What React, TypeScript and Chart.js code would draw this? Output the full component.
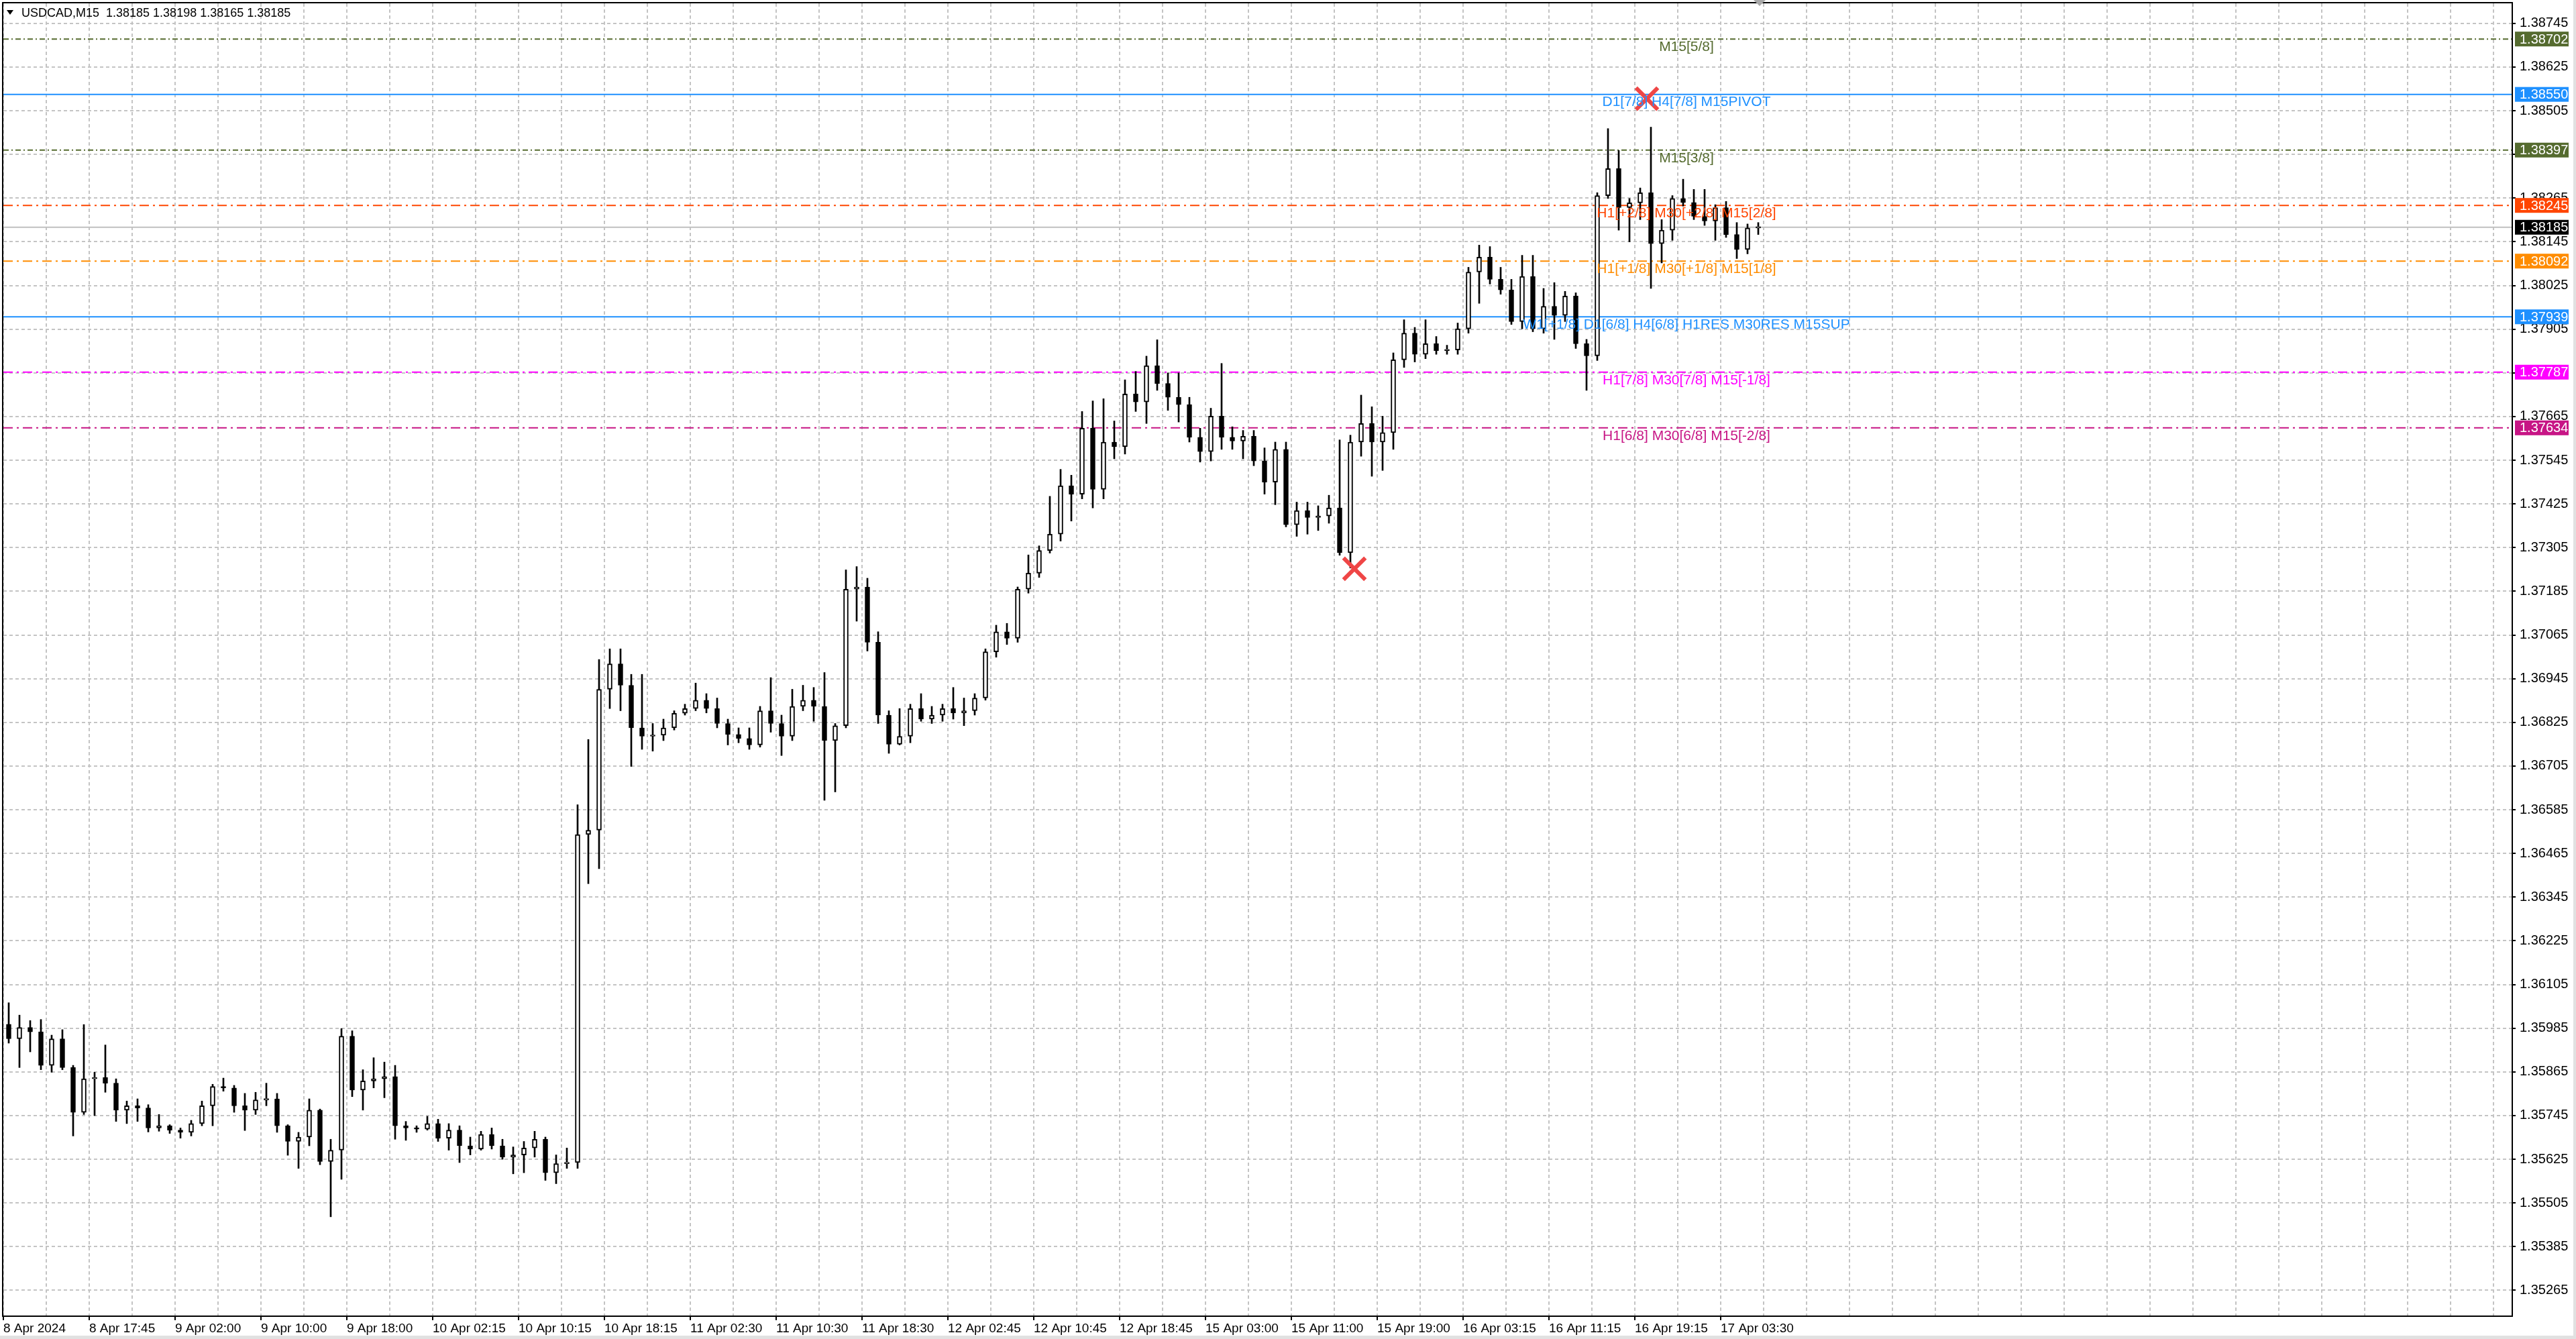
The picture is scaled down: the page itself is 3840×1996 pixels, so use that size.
import { useEffect, useRef } from "react";
import { Chart, registerables } from "chart.js";

Chart.register(...registerables);

const FONT = "'Liberation Sans', Arial, sans-serif";

// hourly candles (M15 axis, 4 bars per candle)
const opens = [
  1.35996, 1.35956, 1.35987, 1.35975, 1.35883, 1.35956, 1.35877, 1.35754, 1.35846, 1.35850,
  1.35834, 1.35760, 1.35772, 1.35766, 1.35711, 1.35717, 1.35705, 1.35699, 1.35723, 1.35772,
  1.35825, 1.35821, 1.35772, 1.35760, 1.35788, 1.35791, 1.35717, 1.35674, 1.35686, 1.35760,
  1.35619, 1.35650, 1.35963, 1.35815, 1.35840, 1.35846, 1.35852, 1.35717, 1.35711, 1.35708,
  1.35723, 1.35683, 1.35705, 1.35662, 1.35653, 1.35693, 1.35662, 1.35631, 1.35637, 1.35656,
  1.35680, 1.35588, 1.35613, 1.35616, 1.36517, 1.36529, 1.36916, 1.36986, 1.36927, 1.36810,
  1.36787, 1.36790, 1.36810, 1.36850, 1.36863, 1.36886, 1.36863, 1.36822, 1.36792, 1.36781,
  1.36763, 1.36857, 1.36822, 1.36787, 1.36869, 1.36886, 1.36869, 1.36775, 1.36816, 1.37191,
  1.37197, 1.37045, 1.36845, 1.36765, 1.36787, 1.36863, 1.36834, 1.36845, 1.36863, 1.36851,
  1.36857, 1.36892, 1.37019, 1.37074, 1.37056, 1.37191, 1.37235, 1.37297, 1.37342, 1.37475,
  1.37452, 1.37633, 1.37465, 1.37595, 1.37582, 1.37727, 1.37705, 1.37805, 1.37756, 1.37718,
  1.37698, 1.37608, 1.37569, 1.37666, 1.37608, 1.37598, 1.37611, 1.37543, 1.37485, 1.37575,
  1.37368, 1.37407, 1.37388, 1.37392, 1.37414, 1.37291, 1.37595, 1.37646, 1.37595, 1.37621,
  1.37821, 1.37894, 1.37836, 1.37865, 1.37846, 1.37848, 1.37906, 1.38062, 1.38103, 1.38042,
  1.38013, 1.37926, 1.38050, 1.37906, 1.37968, 1.37943, 1.37996, 1.37865, 1.37832, 1.38272,
  1.38346, 1.38239, 1.38252, 1.38280, 1.38140, 1.38177, 1.38264, 1.38253, 1.38215, 1.38202,
  1.38239, 1.38165, 1.38124, 1.38183,
];
const highs = [
  1.36055, 1.36021, 1.36006, 1.36009, 1.35966, 1.35981, 1.35883, 1.35995, 1.35864, 1.35939,
  1.35846, 1.35785, 1.35791, 1.35775, 1.35748, 1.35720, 1.35711, 1.35732, 1.35785, 1.35831,
  1.35848, 1.35828, 1.35806, 1.35809, 1.35834, 1.35806, 1.35720, 1.35699, 1.35791, 1.35763,
  1.35680, 1.35984, 1.35978, 1.35871, 1.35904, 1.35892, 1.35883, 1.35729, 1.35717, 1.35743,
  1.35735, 1.35723, 1.35717, 1.35686, 1.35702, 1.35711, 1.35680, 1.35659, 1.35674, 1.35702,
  1.35686, 1.35637, 1.35656, 1.36599, 1.36778, 1.36998, 1.37027, 1.37027, 1.36957, 1.36957,
  1.36822, 1.36834, 1.36857, 1.36875, 1.36933, 1.36904, 1.36892, 1.36834, 1.36810, 1.36810,
  1.36869, 1.36948, 1.36845, 1.36916, 1.36927, 1.36921, 1.36962, 1.36822, 1.37244, 1.37253,
  1.37221, 1.37074, 1.36857, 1.36863, 1.36875, 1.36904, 1.36869, 1.36875, 1.36921, 1.36892,
  1.36904, 1.37027, 1.37092, 1.37097, 1.37197, 1.37285, 1.37310, 1.37446, 1.37520, 1.37504,
  1.37679, 1.37708, 1.37714, 1.37653, 1.37766, 1.37789, 1.37831, 1.37876, 1.37785, 1.37785,
  1.37718, 1.37633, 1.37688, 1.37811, 1.37637, 1.37627, 1.37627, 1.37579, 1.37595, 1.37595,
  1.37430, 1.37430, 1.37420, 1.37449, 1.37601, 1.37614, 1.37724, 1.37692, 1.37666, 1.37840,
  1.37931, 1.37910, 1.37931, 1.37885, 1.37861, 1.37922, 1.38075, 1.38136, 1.38132, 1.38075,
  1.38042, 1.38108, 1.38108, 1.38017, 1.38033, 1.38009, 1.38005, 1.37877, 1.38280, 1.38456,
  1.38396, 1.38264, 1.38293, 1.38460, 1.38206, 1.38272, 1.38317, 1.38289, 1.38289, 1.38247,
  1.38256, 1.38198, 1.38194, 1.38198,
];
const lows = [
  1.35944, 1.35877, 1.35920, 1.35871, 1.35864, 1.35871, 1.35689, 1.35748, 1.35745, 1.35809,
  1.35729, 1.35723, 1.35729, 1.35700, 1.35702, 1.35696, 1.35683, 1.35689, 1.35717, 1.35717,
  1.35812, 1.35754, 1.35704, 1.35748, 1.35772, 1.35699, 1.35636, 1.35600, 1.35662, 1.35610,
  1.35467, 1.35570, 1.35797, 1.35760, 1.35821, 1.35794, 1.35680, 1.35677, 1.35699, 1.35705,
  1.35674, 1.35650, 1.35616, 1.35637, 1.35650, 1.35653, 1.35625, 1.35585, 1.35588, 1.35631,
  1.35567, 1.35558, 1.35600, 1.35600, 1.36382, 1.36423, 1.36863, 1.36857, 1.36704, 1.36751,
  1.36746, 1.36775, 1.36804, 1.36845, 1.36857, 1.36851, 1.36810, 1.36763, 1.36769, 1.36751,
  1.36757, 1.36798, 1.36734, 1.36775, 1.36857, 1.36828, 1.36611, 1.36634, 1.36810, 1.37103,
  1.37021, 1.36822, 1.36740, 1.36763, 1.36769, 1.36828, 1.36822, 1.36828, 1.36834, 1.36816,
  1.36845, 1.36886, 1.37004, 1.37039, 1.37045, 1.37180, 1.37223, 1.37290, 1.37323, 1.37378,
  1.37439, 1.37414, 1.37439, 1.37549, 1.37562, 1.37679, 1.37646, 1.37737, 1.37682, 1.37650,
  1.37595, 1.37540, 1.37543, 1.37575, 1.37575, 1.37549, 1.37530, 1.37452, 1.37423, 1.37362,
  1.37336, 1.37342, 1.37352, 1.37372, 1.37284, 1.37249, 1.37556, 1.37501, 1.37517, 1.37575,
  1.37800, 1.37815, 1.37824, 1.37836, 1.37836, 1.37836, 1.37894, 1.37976, 1.38029, 1.38001,
  1.37918, 1.37906, 1.37898, 1.37894, 1.37877, 1.37926, 1.37852, 1.37737, 1.37819, 1.38264,
  1.38177, 1.38145, 1.38206, 1.38017, 1.38087, 1.38149, 1.38243, 1.38206, 1.38190, 1.38149,
  1.38157, 1.38099, 1.38112, 1.38165,
];
const closes = [
  1.35956, 1.35987, 1.35975, 1.35883, 1.35956, 1.35877, 1.35754, 1.35846, 1.35850, 1.35834,
  1.35760, 1.35772, 1.35766, 1.35711, 1.35717, 1.35705, 1.35699, 1.35723, 1.35772, 1.35825,
  1.35821, 1.35772, 1.35760, 1.35788, 1.35791, 1.35717, 1.35674, 1.35686, 1.35760, 1.35619,
  1.35650, 1.35963, 1.35815, 1.35840, 1.35846, 1.35852, 1.35717, 1.35711, 1.35708, 1.35723,
  1.35683, 1.35705, 1.35662, 1.35653, 1.35693, 1.35662, 1.35631, 1.35637, 1.35656, 1.35680,
  1.35588, 1.35613, 1.35616, 1.36517, 1.36529, 1.36916, 1.36986, 1.36927, 1.36810, 1.36787,
  1.36790, 1.36810, 1.36850, 1.36863, 1.36886, 1.36863, 1.36822, 1.36792, 1.36781, 1.36763,
  1.36857, 1.36822, 1.36787, 1.36869, 1.36886, 1.36869, 1.36775, 1.36816, 1.37191, 1.37197,
  1.37045, 1.36845, 1.36765, 1.36787, 1.36863, 1.36834, 1.36845, 1.36863, 1.36851, 1.36857,
  1.36892, 1.37019, 1.37074, 1.37056, 1.37191, 1.37235, 1.37297, 1.37342, 1.37475, 1.37452,
  1.37633, 1.37465, 1.37595, 1.37582, 1.37727, 1.37705, 1.37805, 1.37756, 1.37718, 1.37698,
  1.37608, 1.37569, 1.37666, 1.37608, 1.37598, 1.37611, 1.37543, 1.37485, 1.37575, 1.37368,
  1.37407, 1.37388, 1.37392, 1.37414, 1.37291, 1.37595, 1.37646, 1.37595, 1.37621, 1.37821,
  1.37894, 1.37836, 1.37865, 1.37846, 1.37848, 1.37906, 1.38062, 1.38103, 1.38042, 1.38013,
  1.37926, 1.38050, 1.37906, 1.37968, 1.37943, 1.37996, 1.37865, 1.37832, 1.38272, 1.38346,
  1.38239, 1.38252, 1.38280, 1.38140, 1.38177, 1.38264, 1.38253, 1.38215, 1.38202, 1.38239,
  1.38165, 1.38124, 1.38183, 1.38185,
];

const yTicks = [
  1.35265, 1.35385, 1.35505, 1.35625, 1.35745, 1.35865, 1.35985, 1.36105, 1.36225, 1.36345,
  1.36465, 1.36585, 1.36705, 1.36825, 1.36945, 1.37065, 1.37185, 1.37305, 1.37425, 1.37545,
  1.37665, 1.37785, 1.37905, 1.38025, 1.38145, 1.38265, 1.38385, 1.38505, 1.38625, 1.38745,
];

const xLabels = [
  "8 Apr 2024", "8 Apr 17:45", "9 Apr 02:00", "9 Apr 10:00", "9 Apr 18:00", "10 Apr 02:15",
  "10 Apr 10:15", "10 Apr 18:15", "11 Apr 02:30", "11 Apr 10:30", "11 Apr 18:30", "12 Apr 02:45",
  "12 Apr 10:45", "12 Apr 18:45", "15 Apr 03:00", "15 Apr 11:00", "15 Apr 19:00", "16 Apr 03:15",
  "16 Apr 11:15", "16 Apr 19:15", "17 Apr 03:30",
];

const levelPrices = [1.38702, 1.3855, 1.38397, 1.38245, 1.38092, 1.37939, 1.37787, 1.37634];
const levelTexts = [
  "M15[5/8]",
  "D1[7/8] H4[7/8] M15PIVOT",
  "M15[3/8]",
  "H1[+2/8] M30[+2/8] M15[2/8]",
  "H1[+1/8] M30[+1/8] M15[1/8]",
  "W1[+1/8] D1[6/8] H4[6/8] H1RES M30RES M15SUP",
  "H1[7/8] M30[7/8] M15[-1/8]",
  "H1[6/8] M30[6/8] M15[-2/8]",
];
const levelColors = ["#556B2F", "#1E90FF", "#556B2F", "#FF4500", "#FF8C00", "#1E90FF", "#FF00FF", "#C71585"];
const levelDashes = [[8, 4, 2, 4], [], [8, 4, 2, 4], [14, 6, 3, 6], [14, 6, 3, 6], [], [14, 6, 3, 6], [14, 6, 3, 6]];
const levelLabelBar = 626.75;

const bidPrice = 1.38185;
const tagPrices = [1.38702, 1.3855, 1.38397, 1.38245, 1.38185, 1.38092, 1.37939, 1.37787, 1.37634];
const tagColors = ["#556B2F", "#1E90FF", "#556B2F", "#FF4500", "#000000", "#FF8C00", "#1E90FF", "#FF00FF", "#C71585"];

const markBars = [612, 503];
const markPrices = [1.38538, 1.37247];

const titleText = "USDCAD,M15  1.38185 1.38198 1.38165 1.38185";

const X_MIN = -0.5;
const X_MAX = 934.5;

const mt4Plugin = {
  id: "mt4Overlay",
  beforeDraw(chart: any) {
    const { ctx, width, height } = chart;
    ctx.save();
    ctx.fillStyle = "#ffffff";
    ctx.fillRect(0, 0, width, height);
    ctx.restore();
  },
  afterDraw(chart: any) {
    const { ctx, chartArea: a, scales, width, height } = chart;
    const x = scales.x;
    const y = scales.y;
    ctx.save();

    // level captions
    ctx.save();
    ctx.beginPath();
    ctx.rect(a.left, a.top, a.right - a.left, a.bottom - a.top);
    ctx.clip();
    ctx.font = `21px ${FONT}`;
    ctx.textAlign = "center";
    ctx.textBaseline = "middle";
    levelPrices.forEach((p, i) => {
      ctx.fillStyle = levelColors[i];
      ctx.fillText(levelTexts[i], x.getPixelForValue(levelLabelBar), y.getPixelForValue(p) + 12);
    });
    ctx.restore();

    // frame
    ctx.strokeStyle = "#000";
    ctx.lineWidth = 2;
    ctx.strokeRect(a.left - 1, a.top - 1, a.right - a.left + 1, a.bottom - a.top + 1);

    // price tags on the axis
    ctx.font = `20px ${FONT}`;
    ctx.textAlign = "left";
    ctx.textBaseline = "middle";
    tagPrices.forEach((p, i) => {
      const py = y.getPixelForValue(p);
      ctx.fillStyle = tagColors[i];
      ctx.fillRect(a.right + 4, py - 11, 80, 22);
      ctx.fillStyle = "#ffffff";
      ctx.fillText(p.toFixed(5), a.right + 11, py + 1);
    });

    // title
    ctx.fillStyle = "#000";
    ctx.beginPath();
    ctx.moveTo(10, 15);
    ctx.lineTo(20, 15);
    ctx.lineTo(15, 22);
    ctx.closePath();
    ctx.fill();
    ctx.font = `18px ${FONT}`;
    ctx.fillText(titleText, 32, 20);

    // chart shift marker
    const sx = x.getPixelForValue(654);
    ctx.fillStyle = "#a8a8a8";
    ctx.beginPath();
    ctx.moveTo(sx - 9, 0);
    ctx.lineTo(sx + 9, 0);
    ctx.lineTo(sx, 9);
    ctx.closePath();
    ctx.fill();

    // window edges
    ctx.fillStyle = "#e1e1e1";
    ctx.fillRect(0, height - 5, width, 5);
    ctx.fillRect(width - 4, 0, 4, height);
    ctx.restore();
  },
};

export default function App() {
  const canvasRef = useRef<HTMLCanvasElement | null>(null);

  useEffect(() => {
    if (!canvasRef.current) return;

    const candleX = closes.map((_, i) => i * 4 + 1.5);
    const wickData = candleX.map((cx, i) => ({ x: cx, y: [lows[i], highs[i]] }));
    const bodyData = candleX.map((cx, i) => ({ x: cx, y: [opens[i], closes[i]] }));
    const bodyFill = closes.map((c, i) => (c >= opens[i] ? "#ffffff" : "#000000"));

    const levelSets = levelPrices.map((p, i) => ({
      type: "line" as const,
      data: [{ x: X_MIN, y: p }, { x: X_MAX, y: p }],
      borderColor: levelColors[i],
      borderWidth: 2,
      borderDash: levelDashes[i],
      pointRadius: 0,
      order: 3,
    }));

    const chart = new Chart(canvasRef.current, {
      type: "bar",
      data: {
        datasets: [
          {
            type: "line",
            data: [{ x: X_MIN, y: bidPrice }, { x: X_MAX, y: bidPrice }],
            borderColor: "#c0c0c0",
            borderWidth: 2,
            pointRadius: 0,
            order: 4,
          } as any,
          ...levelSets,
          {
            type: "bar",
            data: wickData,
            backgroundColor: "#000000",
            barThickness: 2,
            grouped: false,
            minBarLength: 1,
            order: 2,
          } as any,
          {
            type: "bar",
            data: bodyData,
            backgroundColor: bodyFill,
            borderColor: "#000000",
            borderWidth: 2,
            borderSkipped: false,
            barThickness: 7,
            grouped: false,
            minBarLength: 2,
            order: 1,
          } as any,
          {
            type: "scatter",
            data: markBars.map((b, i) => ({ x: b, y: markPrices[i] })),
            pointStyle: "crossRot",
            pointRadius: 23,
            borderWidth: 6,
            borderColor: "#ef4646",
            order: 0,
          } as any,
        ],
      },
      options: {
        responsive: true,
        maintainAspectRatio: false,
        animation: false,
        events: [],
        layout: { autoPadding: false, padding: { left: 5, top: 5, right: 0, bottom: 0 } },
        plugins: {
          legend: { display: false },
          tooltip: { enabled: false },
        },
        scales: {
          x: {
            type: "linear",
            min: X_MIN,
            max: X_MAX,
            offset: false,
            afterBuildTicks: (scale: any) => {
              scale.ticks = Array.from({ length: 59 }, (_, i) => ({ value: i * 16 - 0.5 }));
            },
            afterFit: (scale: any) => {
              scale.height = 34;
              scale.paddingLeft = 0;
              scale.paddingRight = 0;
            },
            ticks: {
              autoSkip: false,
              maxRotation: 0,
              align: "start",
              padding: 1,
              color: "#000",
              font: { family: FONT, size: 19 },
              callback: (_v: any, i: number) => (i % 2 === 0 ? xLabels[i / 2] ?? "" : ""),
            },
            grid: {
              offset: false,
              color: "#c4c4c4",
              lineWidth: 2,
              tickLength: 6,
              tickWidth: 2,
              tickBorderDash: [],
              tickColor: (c: any) => (c.index % 2 === 0 && c.index / 2 < xLabels.length ? "#000" : "rgba(0,0,0,0)"),
            },
            border: { display: false, dash: [5, 4] },
          },
          y: {
            type: "linear",
            position: "right",
            min: 1.35194,
            max: 1.388,
            beginAtZero: false,
            afterBuildTicks: (scale: any) => {
              scale.ticks = yTicks.map((v) => ({ value: v }));
            },
            afterFit: (scale: any) => {
              scale.width = 95;
              scale.paddingTop = 0;
              scale.paddingBottom = 0;
            },
            ticks: {
              autoSkip: false,
              padding: 6,
              color: "#000",
              font: { family: FONT, size: 20 },
              callback: (v: any) =>
                tagPrices.some((t) => Math.abs(t - v) < 0.00015) ? "" : Number(v).toFixed(5),
            },
            grid: {
              color: "#c4c4c4",
              lineWidth: 2,
              tickLength: 5,
              tickWidth: 2,
              tickBorderDash: [],
              tickColor: "#000",
            },
            border: { display: false, dash: [5, 4] },
          },
        },
      } as any,
      plugins: [mt4Plugin],
    });

    return () => chart.destroy();
  }, []);

  return (
    <div style={{ position: "fixed", left: 0, top: 0, width: 3840, height: 1996, background: "#fff" }}>
      <canvas ref={canvasRef} />
    </div>
  );
}
